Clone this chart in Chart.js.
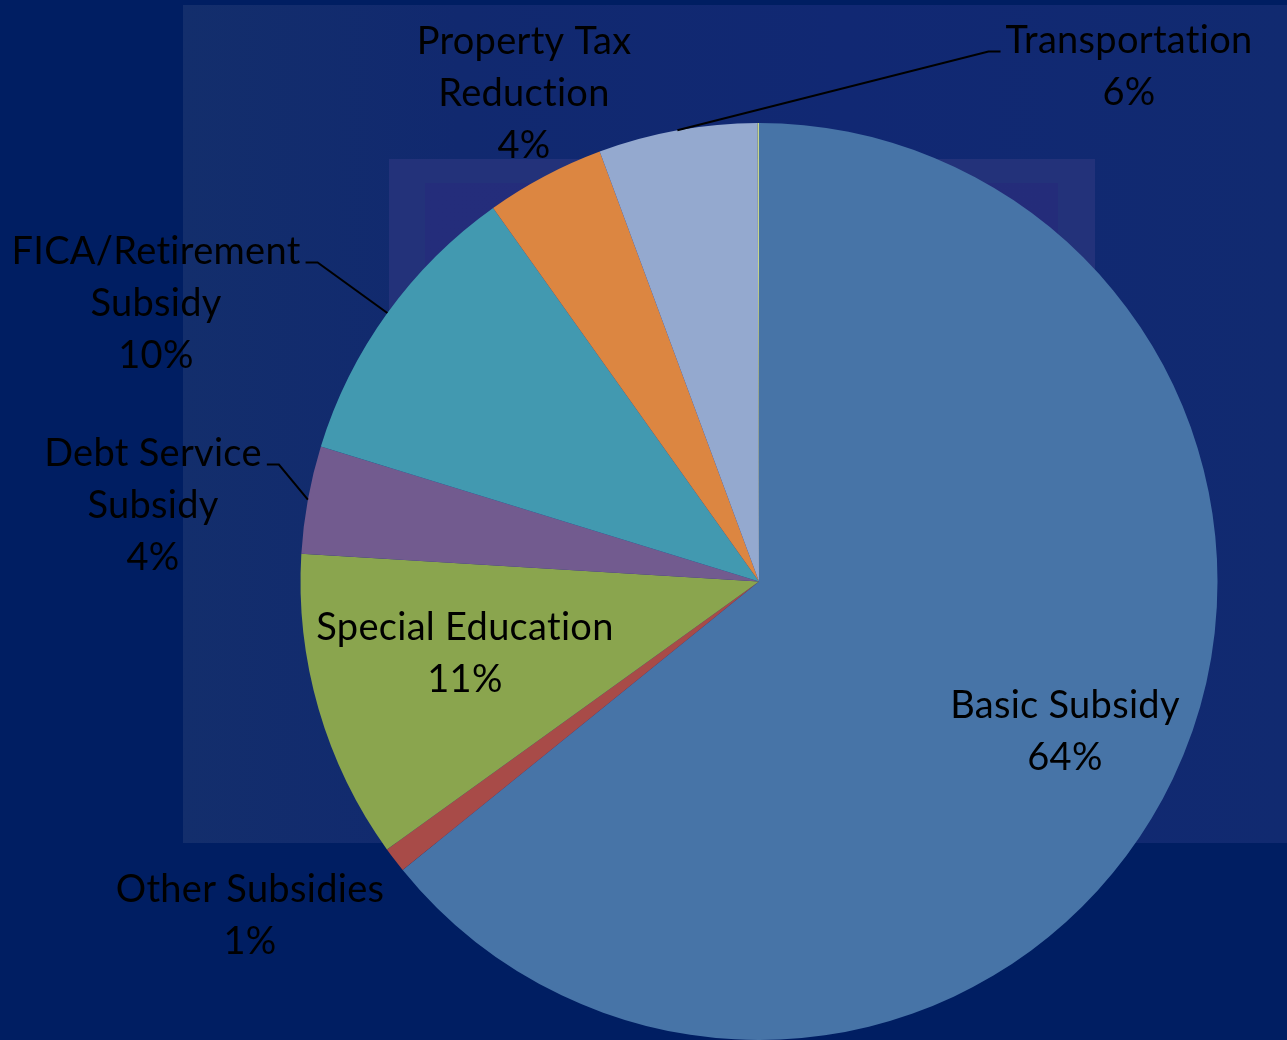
<!DOCTYPE html>
<html>
<head>
<meta charset="utf-8">
<script src="https://cdn.jsdelivr.net/npm/chart.js@4"></script>
<style>
  html, body { margin: 0; padding: 0; overflow: hidden; }
  body { width: 1287px; height: 1040px; background: #001e62; position: relative; }
  .panel { position: absolute; }
  #panel-a { left: 183px; top: 5px; width: 1104px; height: 838px;
             background: linear-gradient(90deg, #132e6c 0%, #11296f 25%, #112873 60%, #112a70 100%); }
  #panel-b { left: 389px; top: 159px; width: 706px; height: 684px; background: #23327a; }
  #panel-c { left: 425px; top: 183px; width: 633px; height: 660px;
             background: linear-gradient(90deg, #242d7b 0%, #242c7a 100%); }
  #chart { position: absolute; left: 0; top: 0; }
</style>
</head>
<body>
<div class="panel" id="panel-a"></div>
<div class="panel" id="panel-b"></div>
<div class="panel" id="panel-c"></div>
<canvas id="chart" width="1287" height="1040"></canvas>
<script>
// Slices in drawing order, clockwise from 12 o'clock
const categories = [
    'Basic Subsidy',
    'Other Subsidies',
    'Special Education',
    'Debt Service\nSubsidy',
    'FICA/Retirement\nSubsidy',
    'Property Tax\nReduction',
    'Transportation',
    ''
];
const shares = [64.2, 0.9, 10.9, 3.8, 10.4, 4.2, 5.6, 0.05];
const sliceColors = ['#4774a7', '#a84b48', '#8aa54e', '#725b8f', '#4299b0', '#dc8641', '#94a9cf', '#c8d68a'];

// Where each label block sits, relative to the pie centre (px), and whether it gets a leader line
const labelLayout = {
    'Basic Subsidy':            { dx: 306,  dy: 149,  leader: null },
    'Other Subsidies':          { dx: -509, dy: 333,  leader: null },
    'Special Education':        { dx: -294, dy: 71,   leader: null },
    'Debt Service\nSubsidy':    { dx: -606, dy: -77,  leader: 'right' },
    'FICA/Retirement\nSubsidy': { dx: -603, dy: -279, leader: 'right' },
    'Property Tax\nReduction':  { dx: -235, dy: -489, leader: null },
    'Transportation':           { dx: 370,  dy: -516, leader: 'left' }
};

const FONT_SIZE = 38;
const LINE_GAP = 52;
const LABEL_FONT = FONT_SIZE + 'px Lato, "Open Sans", sans-serif';

const pieLabels = {
    id: 'pieLabels',
    afterDatasetsDraw(chart) {
        const ctx = chart.ctx;
        const meta = chart.getDatasetMeta(0);
        const total = shares.reduce((a, b) => a + b, 0);

        ctx.save();
        ctx.font = LABEL_FONT;
        // a touch of spacing also stops the "ti" ligature
        ctx.letterSpacing = '0.3px';
        ctx.fillStyle = '#000';
        ctx.strokeStyle = '#000';
        ctx.lineWidth = 2;
        ctx.textAlign = 'center';
        ctx.textBaseline = 'alphabetic';

        meta.data.forEach((arc, i) => {
            const name = categories[i];
            const pos = labelLayout[name];
            if (!pos) return;

            const pct = Math.round(shares[i] / total * 100) + '%';
            const lines = name.split('\n').concat([pct]);
            const cx = arc.x + pos.dx;
            const cy = arc.y + pos.dy;
            const firstY = cy - (lines.length - 1) * LINE_GAP / 2;

            lines.forEach((txt, k) => {
                ctx.fillText(txt, cx, firstY + k * LINE_GAP + 13);
            });

            if (pos.leader) {
                const w = ctx.measureText(lines[0]).width;
                const mid = (arc.startAngle + arc.endAngle) / 2;
                const ax = arc.x + Math.cos(mid) * arc.outerRadius;
                const ay = arc.y + Math.sin(mid) * arc.outerRadius;
                const ly = firstY + 12;
                const dir = pos.leader === 'right' ? 1 : -1;
                const ex = cx + dir * (w / 2 + 5);
                ctx.beginPath();
                ctx.moveTo(ex, ly);
                ctx.lineTo(ex + dir * 12, ly);
                ctx.lineTo(ax, ay);
                ctx.stroke();
            }
        });
        ctx.restore();
    }
};

new Chart(document.getElementById('chart').getContext('2d'), {
    type: 'pie',
    data: {
        labels: categories,
        datasets: [{
            data: shares,
            backgroundColor: sliceColors,
            borderWidth: 0
        }]
    },
    options: {
        responsive: false,
        animation: false,
        layout: { padding: { left: 300, right: 69, top: 123, bottom: 0 } },
        plugins: {
            legend: { display: false },
            tooltip: { enabled: false }
        }
    },
    plugins: [pieLabels]
});
</script>
</body>
</html>
